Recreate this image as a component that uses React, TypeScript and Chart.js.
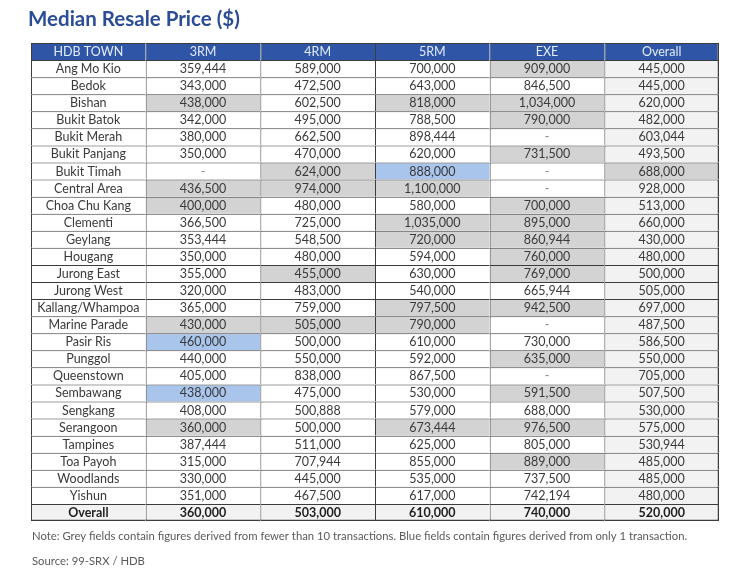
import React, { useEffect, useRef } from "react";
import { Chart, registerables } from "chart.js";

Chart.register(...registerables);

const titleText = "Median Resale Price ($)";
const noteText =
  "Note: Grey fields contain figures derived from fewer than 10 transactions. Blue fields contain figures derived from only 1 transaction.";
const sourceText = "Source: 99-SRX / HDB";

const columns = ["HDB TOWN", "3RM", "4RM", "5RM", "EXE", "Overall"];

const towns = [
  "Ang Mo Kio", "Bedok", "Bishan", "Bukit Batok", "Bukit Merah", "Bukit Panjang",
  "Bukit Timah", "Central Area", "Choa Chu Kang", "Clementi", "Geylang", "Hougang",
  "Jurong East", "Jurong West", "Kallang/Whampoa", "Marine Parade", "Pasir Ris",
  "Punggol", "Queenstown", "Sembawang", "Sengkang", "Serangoon", "Tampines",
  "Toa Payoh", "Woodlands", "Yishun",
];

const rm3 = [359444, 343000, 438000, 342000, 380000, 350000, null, 436500, 400000, 366500, 353444, 350000, 355000, 320000, 365000, 430000, 460000, 440000, 405000, 438000, 408000, 360000, 387444, 315000, 330000, 351000];
const rm4 = [589000, 472500, 602500, 495000, 662500, 470000, 624000, 974000, 480000, 725000, 548500, 480000, 455000, 483000, 759000, 505000, 500000, 550000, 838000, 475000, 500888, 500000, 511000, 707944, 445000, 467500];
const rm5 = [700000, 643000, 818000, 788500, 898444, 620000, 888000, 1100000, 580000, 1035000, 720000, 594000, 630000, 540000, 797500, 790000, 610000, 592000, 867500, 530000, 579000, 673444, 625000, 855000, 535000, 617000];
const exe = [909000, 846500, 1034000, 790000, null, 731500, null, null, 700000, 895000, 860944, 760000, 769000, 665944, 942500, null, 730000, 635000, null, 591500, 688000, 976500, 805000, 889000, 737500, 742194];
const overall = [445000, 445000, 620000, 482000, 603044, 493500, 688000, 928000, 513000, 660000, 430000, 480000, 500000, 505000, 697000, 487500, 586500, 550000, 705000, 507500, 530000, 575000, 530944, 485000, 485000, 480000];
const overallRow = [360000, 503000, 610000, 740000, 520000];

// shading: "g" = grey (fewer than 10 transactions), "b" = blue (only 1 transaction)
const shade3 = ["", "", "g", "", "", "", "", "g", "g", "", "", "", "", "", "", "g", "b", "", "", "b", "", "g", "", "", "", ""];
const shade4 = ["", "", "", "", "", "", "g", "g", "", "", "", "", "g", "", "", "g", "", "", "", "", "", "", "", "", "", ""];
const shade5 = ["", "", "g", "", "", "", "b", "g", "", "g", "g", "", "", "", "g", "g", "", "", "", "", "", "g", "", "", "", ""];
const shadeE = ["g", "", "g", "g", "", "g", "", "", "g", "g", "g", "g", "g", "", "g", "", "", "g", "", "g", "", "g", "", "g", "", ""];
const shadeO = ["", "", "", "", "", "", "g", "", "", "", "", "", "", "", "", "", "", "", "", "", "", "", "", "", "", ""];

const HEADER_BG = "#2f55a6";
const HEADER_FG = "#e4ecf8";
const GREY = "#d3d3d3";
const BLUE = "#a9c5ec";
const LIGHT = "#f2f2f2";
const WHITE = "#ffffff";
const LINE = "#3c3c3c";
const TEXT = "#3a3a3a";
const FONT = "Lato";

const rowLabels = ["HDB TOWN", ...towns, "Overall"];
const valueCols = [rm3, rm4, rm5, exe, overall];
const shadeCols = [shade3, shade4, shade5, shadeE, shadeO];
const nRows = rowLabels.length;
const nCols = columns.length;

const fmt = (v: number | null) => (v === null ? "-" : v.toLocaleString("en-US"));

function cellText(r: number, c: number): string {
  if (r === 0) return columns[c];
  if (r === nRows - 1) return c === 0 ? "Overall" : fmt(overallRow[c - 1]);
  if (c === 0) return towns[r - 1];
  return fmt(valueCols[c - 1][r - 1]);
}

function cellColor(r: number, c: number): string {
  if (r === 0) return HEADER_BG;
  if (r === nRows - 1) return LIGHT;
  if (c === 0) return WHITE;
  const s = shadeCols[c - 1][r - 1];
  if (s === "g") return GREY;
  if (s === "b") return BLUE;
  return c === nCols - 1 ? LIGHT : WHITE;
}

const textPlugin = {
  id: "cellText",
  afterDatasetsDraw(chart: any) {
    const { ctx } = chart;
    const xs = chart.scales.x;
    const ys = chart.scales.y;
    ctx.save();
    ctx.textAlign = "center";
    ctx.textBaseline = "middle";
    for (let r = 0; r < nRows; r++) {
      const y = ys.getPixelForValue(r) + 0.5;
      for (let c = 0; c < nCols; c++) {
        const x = xs.getPixelForValue(c + 0.5);
        const bold = r === nRows - 1;
        ctx.font = `${bold ? "bold " : ""}12.5px ${FONT}`;
        ctx.fillStyle = r === 0 ? HEADER_FG : r === nRows - 1 ? "#1e1e1e" : TEXT;
        const t = cellText(r, c);
        ctx.fillStyle = t === "-" ? "#888" : ctx.fillStyle;
        ctx.fillText(t, x, y);
      }
    }
    // title / note / source
    ctx.textAlign = "left";
    ctx.textBaseline = "alphabetic";
    ctx.fillStyle = "#2b4d98";
    ctx.font = `bold 20.5px ${FONT}`;
    ctx.fillText(titleText, 28, 26);
    ctx.fillStyle = "#5a5a5a";
    ctx.font = `11.3px ${FONT}`;
    ctx.fillText(noteText, 32, 540);
    ctx.fillText(sourceText, 32, 565);
    ctx.restore();
  },
};

export default function App() {
  const ref = useRef<HTMLCanvasElement | null>(null);
  useEffect(() => {
    document.body.style.margin = "0";
    const canvas = ref.current;
    if (!canvas) return;
    const datasets = columns.map((col, c) => ({
      label: col,
      data: rowLabels.map(() => [c, c + 1]),
      backgroundColor: rowLabels.map((_, r) => cellColor(r, c)),
      borderColor: LINE,
      borderWidth: rowLabels.map((_, r) => ({
        top: 1,
        left: 1,
        right: c === nCols - 1 ? 1.5 : 0,
        bottom: r === nRows - 1 ? 1.5 : 0,
      })),
      borderSkipped: false,
      inflateAmount: 0,
      grouped: false,
      barPercentage: 1,
      categoryPercentage: 1,
    }));
    const chart = new Chart(canvas, {
      type: "bar",
      data: { labels: rowLabels, datasets: datasets as any },
      options: {
        indexAxis: "y",
        animation: false,
        responsive: false,
        devicePixelRatio: 1,
        layout: { padding: { left: 31, right: 31, top: 43, bottom: 52 } },
        plugins: { legend: { display: false }, title: { display: false }, tooltip: { enabled: false } },
        scales: {
          x: { type: "linear", min: 0, max: 6, display: false },
          y: { type: "category", display: false, offset: true },
        },
      },
      plugins: [textPlugin],
    });
    return () => chart.destroy();
  }, []);
  return <canvas ref={ref} width={750} height={573} style={{ display: "block", width: 750, height: 573 }} />;
}
